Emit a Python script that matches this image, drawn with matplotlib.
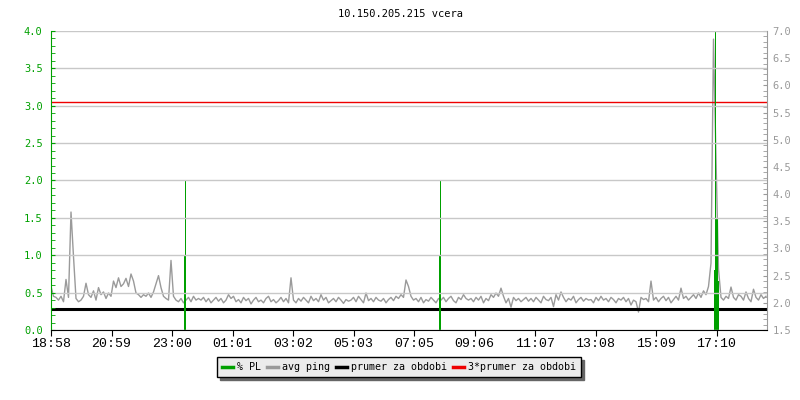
import numpy as np
import matplotlib
matplotlib.use("Agg")
import matplotlib.pyplot as plt
from matplotlib.lines import Line2D
from matplotlib.ticker import MultipleLocator, FormatStrFormatter

title = "10.150.205.215 vcera"

# x axis: minutes since 18:58
time_labels = ["18:58", "20:59", "23:00", "01:01", "03:02", "05:03",
               "07:05", "09:06", "11:07", "13:08", "15:09", "17:10"]
tick_minutes = [0, 121, 242, 363, 484, 605, 726, 847, 968, 1089, 1210, 1331]
x_end = 1432

# avg ping [ms], one value every 5 minutes, one row per hour
ping_ms = [
    2.30, 2.12, 2.10, 2.05, 2.12, 2.02, 2.43, 2.10, 3.67, 2.85, 2.08, 2.02,
    2.05, 2.12, 2.36, 2.15, 2.10, 2.22, 2.05, 2.28, 2.15, 2.20, 2.08, 2.18,
    2.12, 2.40, 2.28, 2.46, 2.30, 2.35, 2.45, 2.30, 2.53, 2.40, 2.18, 2.15,
    2.10, 2.15, 2.12, 2.18, 2.10, 2.20, 2.35, 2.50, 2.28, 2.12, 2.08, 2.05,
    2.78, 2.12, 2.05, 2.02, 2.08, 2.00, 2.05, 2.10, 2.02, 2.12, 2.05, 2.08,
    2.05, 2.10, 2.02, 2.08, 2.00, 2.05, 2.10, 2.03, 2.08, 2.00, 2.05, 2.15,
    2.08, 2.12, 2.02, 2.06, 2.00, 2.10, 2.04, 2.08, 1.98, 2.05, 2.10, 2.02,
    2.05, 2.00, 2.08, 2.12, 2.02, 2.06, 2.00, 2.04, 2.10, 2.02, 2.08, 2.00,
    2.46, 2.05, 2.00, 2.08, 2.03, 2.10, 2.05, 2.00, 2.12, 2.04, 2.08, 2.02,
    2.15, 2.05, 2.10, 2.00, 2.04, 2.08, 2.02, 2.10, 2.05, 1.99, 2.06, 2.03,
    2.05, 2.10, 2.02, 2.12, 2.06, 2.00, 2.18, 2.04, 2.08, 2.02, 2.10, 2.05,
    2.03, 2.08, 2.00, 2.06, 2.10, 2.04, 2.12, 2.08, 2.15, 2.10, 2.42, 2.30,
    2.12, 2.05, 2.08, 2.02, 2.10, 2.00, 2.06, 2.03, 2.10, 2.05, 2.00, 2.08,
    2.05, 2.10, 2.02, 2.08, 2.12, 2.04, 2.00, 2.10, 2.06, 2.15, 2.08, 2.05,
    2.08, 2.02, 2.10, 2.05, 2.12, 2.00, 2.08, 2.04, 2.15, 2.10, 2.18, 2.12,
    2.27, 2.12, 2.00, 2.08, 1.92, 2.10, 2.04, 2.08, 2.02, 2.06, 2.10, 2.03,
    2.08, 2.02, 2.10, 2.05, 2.00, 2.12, 2.06, 2.04, 2.10, 1.93, 2.15, 2.05,
    2.20, 2.10, 2.02, 2.08, 2.05, 2.12, 2.00, 2.06, 2.10, 2.03, 2.08, 2.05,
    2.06, 2.00, 2.10, 2.04, 2.12, 2.05, 2.08, 2.02, 2.10, 2.06, 2.00, 2.08,
    2.05, 2.10, 2.02, 2.08, 1.96, 2.05, 2.02, 1.83, 2.10, 2.06, 2.08, 2.02,
    2.40, 2.05, 2.10, 2.02, 2.08, 2.12, 2.04, 2.10, 2.00, 2.06, 2.12, 2.05,
    2.27, 2.08, 2.12, 2.05, 2.10, 2.15, 2.08, 2.18, 2.10, 2.22, 2.15, 2.30,
    2.73, 6.85, 4.65, 2.62, 2.10, 2.05, 2.12, 2.08, 2.29, 2.10, 2.05, 2.15,
    2.12, 2.05, 2.20, 2.08, 2.02, 2.25, 2.10, 2.05, 2.15, 2.08, 2.12,
]
ping_minutes = np.arange(len(ping_ms)) * 5

# packet loss [%]
pl_minutes = [266, 268, 776, 778, 1326, 1328, 1330, 1332, 1334]
pl_values = [1.0, 2.0, 1.0, 2.0, 0.8, 4.0, 1.5, 1.5, 0.65]

prumer = 1.895  # average over period [ms]

GREEN = "#00a000"
GREY = "#9a9a9a"
RED = "#ee0000"
MONO = "DejaVu Sans Mono"

fig = plt.figure(figsize=(8, 4), dpi=100)
ax = fig.add_axes([51/800, 1 - 330/400, 716/800, 299/400])
ax2 = ax.twinx()

# left axis (PL) drawn above the ping axis
ax.set_zorder(ax2.get_zorder() + 1)
ax.patch.set_visible(False)

ax2.plot(ping_minutes, ping_ms, color=GREY, lw=1.0)
ax2.axhline(prumer, color="black", lw=2.2)
ax2.axhline(3 * prumer, color=RED, lw=1.0)
ax.bar(pl_minutes, pl_values, width=2, align="edge", color=GREEN, lw=0)

ax.set_xlim(0, x_end)
ax.set_ylim(0, 4.0)
ax2.set_ylim(1.5, 7.0)

ax.set_xticks(tick_minutes)
ax.set_xticklabels(time_labels, fontfamily="Liberation Mono", fontsize=9.5)
ax.tick_params(axis="x", direction="out", length=4, color="black", pad=2)

ax.yaxis.set_major_locator(MultipleLocator(0.5))
ax.yaxis.set_minor_locator(MultipleLocator(0.1))
ax.yaxis.set_major_formatter(FormatStrFormatter("%.1f"))
ax.tick_params(axis="y", which="both", direction="in", color=GREEN,
               labelcolor=GREEN, length=3, labelsize=7.5, pad=6)
for t in ax.get_yticklabels():
    t.set_fontfamily(MONO)

ax2.yaxis.set_major_locator(MultipleLocator(0.5))
ax2.yaxis.set_minor_locator(MultipleLocator(0.1))
ax2.yaxis.set_major_formatter(FormatStrFormatter("%.1f"))
ax2.tick_params(axis="y", which="both", direction="in", color=GREY,
                labelcolor=GREY, length=3, labelsize=7.5, pad=4)
for t in ax2.get_yticklabels():
    t.set_fontfamily(MONO)

ax.grid(axis="y", which="major", color="#c8c8c8", lw=1.0)

for s in ["top", "right"]:
    ax.spines[s].set_visible(False)
ax.spines["left"].set_color(GREEN)
ax.spines["bottom"].set_color("black")
for s in ["top", "left", "bottom"]:
    ax2.spines[s].set_visible(False)
ax2.spines["right"].set_color(GREY)

fig.text(0.5, 1 - 14/400, title, ha="center", va="center",
         fontfamily=MONO, fontsize=7.5)

handles = [Line2D([], [], color=c, lw=2.5) for c in [GREEN, GREY, "black", RED]]
labels = ["% PL", "avg ping", "prumer za obdobi", "3*prumer za obdobi"]
leg = fig.legend(handles, labels, loc="upper center", ncol=4,
                 bbox_to_anchor=(0.499, 1 - 357/400), frameon=True,
                 fancybox=False, shadow={"color": "#666666", "alpha": 1.0},
                 edgecolor="black", facecolor="#ebebeb", framealpha=1,
                 handlelength=1.1, handletextpad=0.4, columnspacing=0.6,
                 borderpad=0.5, borderaxespad=0,
                 prop={"family": MONO, "size": 7.2})
leg.get_frame().set_linewidth(1.0)

fig.savefig("out.png", dpi=100, facecolor="white")
